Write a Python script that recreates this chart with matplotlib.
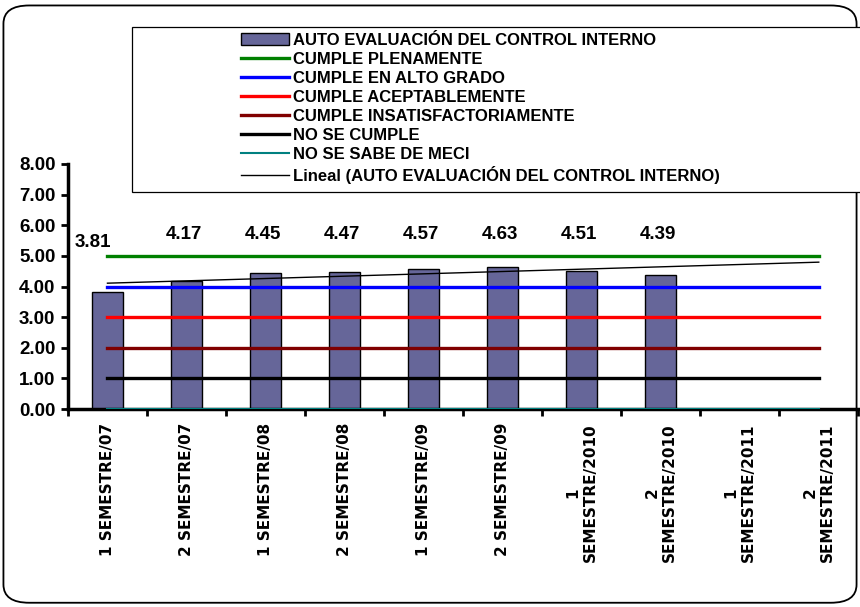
import matplotlib
matplotlib.use("Agg")
import matplotlib.pyplot as plt
import numpy as np
from matplotlib.patches import FancyBboxPatch, Rectangle

categories = ["1 SEMESTRE/07", "2 SEMESTRE/07", "1 SEMESTRE/08", "2 SEMESTRE/08",
              "1 SEMESTRE/09", "2 SEMESTRE/09", "1\nSEMESTRE/2010", "2\nSEMESTRE/2010",
              "1\nSEMESTRE/2011", "2\nSEMESTRE/2011"]
scores = [3.81, 4.17, 4.45, 4.47, 4.57, 4.63, 4.51, 4.39]

level_names = ["CUMPLE PLENAMENTE", "CUMPLE EN ALTO GRADO", "CUMPLE ACEPTABLEMENTE",
               "CUMPLE INSATISFACTORIAMENTE", "NO SE CUMPLE", "NO SE SABE DE MECI"]
level_values = [5, 4, 3, 2, 1, 0]
level_colors = ["#008000", "#0000ff", "#ff0000", "#800000", "#000000", "#008080"]

plt.rcParams['font.family'] = ['Liberation Sans', 'DejaVu Sans']

fig = plt.figure(figsize=(8.6, 6.07), dpi=100)
# rounded outer border of the chart area
fig.patches.append(FancyBboxPatch((0.004, 0.007), 0.992, 0.984, boxstyle="round,pad=0,rounding_size=0.03",
                                  transform=fig.transFigure, facecolor="none", edgecolor="black",
                                  linewidth=1.3))
# legend frame, running off the right edge
fig.patches.append(Rectangle((0.1535, 0.684), 0.9, 0.2715, transform=fig.transFigure,
                             facecolor="white", edgecolor="black", linewidth=0.9))

ax = fig.add_axes([0.079, 0.326, 0.919, 0.404])

x = np.arange(len(categories))
xs = np.arange(len(scores))
handles = []
h = ax.bar(xs, scores, width=0.39, color="#666699", edgecolor="black", linewidth=1.0,
           label="AUTO EVALUACIÓN DEL CONTROL INTERNO", zorder=2)
handles.append(h)
for name, val, col in zip(level_names, level_values, level_colors):
    lw = 1.5 if val == 0 else 2.4
    ln, = ax.plot([x[0], x[-1]], [val, val], color=col, linewidth=lw, label=name, zorder=3)
    handles.append(ln)

slope, icpt = np.polyfit(xs, scores, 1)
tr, = ax.plot([x[0], x[-1]], [icpt, icpt + slope * x[-1]], color="black", linewidth=1.0,
              label="Lineal (AUTO EVALUACIÓN DEL CONTROL INTERNO)", zorder=4)
handles.append(tr)

for i, v in enumerate(scores):
    xo = -0.18 if i == 0 else -0.03
    yo = 5.45 if i == 0 else 5.7
    ax.text(i + xo, yo, f"{v:.2f}", ha="center", va="center", fontsize=13.5, fontweight="bold")

ax.set_xlim(-0.5, len(categories) - 0.5)
ax.set_ylim(0, 8)
ax.set_yticks(np.arange(0, 9, 1))
ax.set_yticklabels([f"{v:.2f}" for v in np.arange(0, 9, 1)], fontsize=13.5, fontweight="bold")
ax.set_xticks(np.arange(len(categories) + 1) - 0.5, minor=False)
ax.set_xticklabels([])
ax.set_xticks(x, minor=True)
ax.set_xticklabels(categories, minor=True, rotation=90, fontsize=11, fontweight="bold",
                   family="DejaVu Sans", va="top", ha="center", multialignment="center")
ax.tick_params(axis="x", which="minor", length=0, pad=10)
ax.tick_params(axis="x", which="major", length=5, width=2, direction="out")
ax.tick_params(axis="y", length=5, width=2, direction="out", pad=4)
for s in ["top", "right"]:
    ax.spines[s].set_visible(False)
for s in ["left", "bottom"]:
    ax.spines[s].set_linewidth(2.5)

leg = fig.legend(handles=handles, loc="upper left", bbox_to_anchor=(241 / 860, 1 - 33 / 607),
                 ncol=1, frameon=False,
                 prop={"weight": "bold", "size": 12},
                 handlelength=2.9, handletextpad=0.2, labelspacing=0.24, borderpad=0,
                 borderaxespad=0)

fig.savefig("out.png", dpi=100)
